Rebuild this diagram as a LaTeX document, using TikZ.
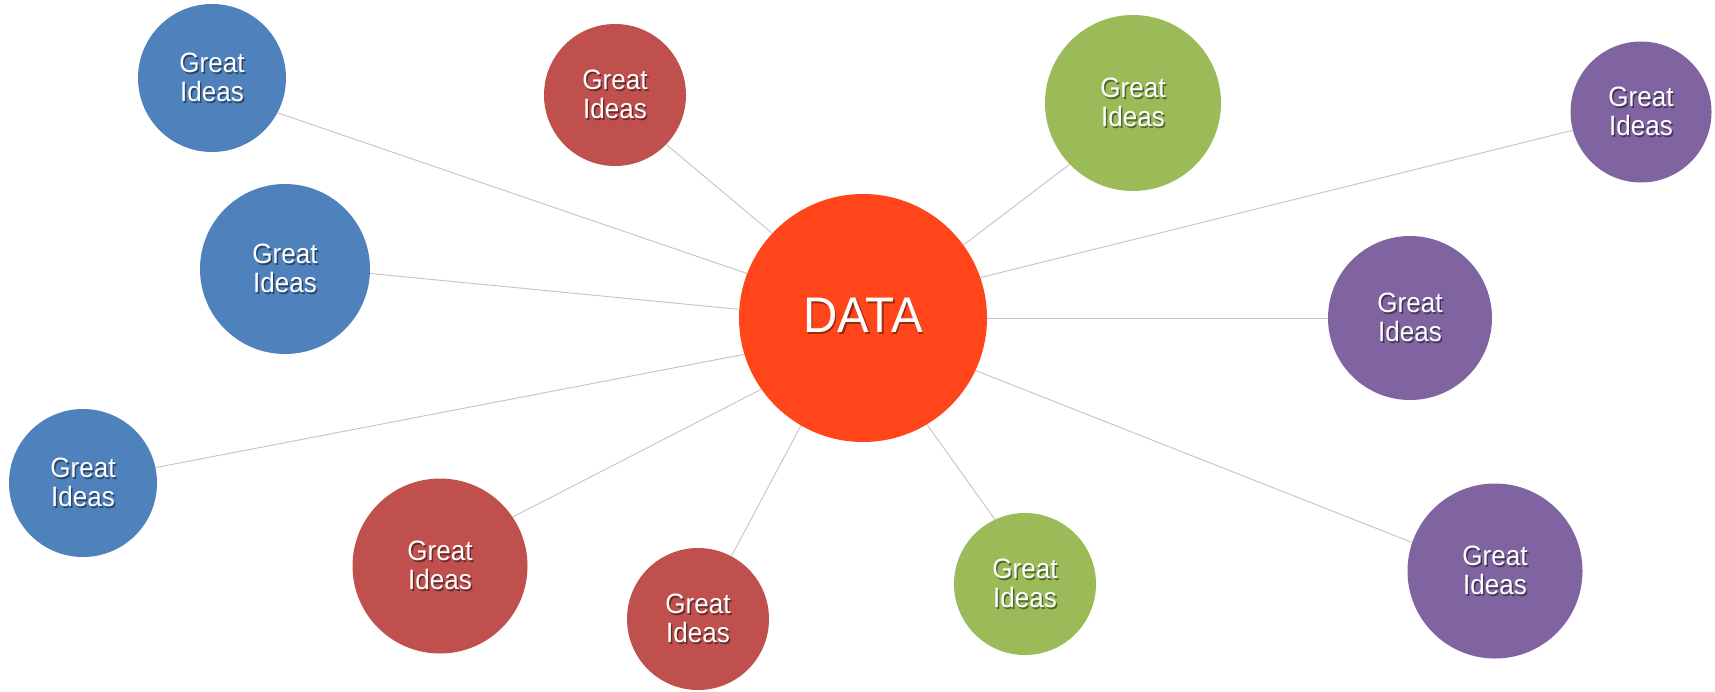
\documentclass[tikz,border=0pt]{standalone}
\usepackage{fontspec}
\setmainfont{Liberation Sans}
\newfontfamily\ideafont[FakeStretch=0.93]{Liberation Sans}
\newfontfamily\datafont[FakeStretch=0.95]{Liberation Sans}
\definecolor{ideablue}{HTML}{4F81BD}
\definecolor{ideared}{HTML}{C0504D}
\definecolor{ideagreen}{HTML}{9BBB59}
\definecolor{ideapurple}{HTML}{8064A2}
\definecolor{dataorange}{HTML}{FF4519}
\definecolor{linegray}{HTML}{C4C4C4}
\pgfdeclarelayer{bg}
\pgfsetlayers{bg,main}
\tikzset{
  bubble/.style={circle, inner sep=0pt, draw=none},
  ideatext/.style={font=\ideafont\fontsize{28}{29}\selectfont, align=center, text=white, inner sep=0pt},
  ideashadow/.style={ideatext, text=black, text opacity=0.45},
  datatext/.style={font=\datafont\fontsize{50}{52}\selectfont, text=white, inner sep=0pt},
  datashadow/.style={datatext, text=black, text opacity=0.4},
  link/.style={draw=linegray, line width=0.9pt},
}
\newcommand\ideabubble[4]{%
  \node[bubble, fill=#2, minimum size=#4pt] (#1) at (#3) {};
  \node[ideashadow] at ([shift={(1.5pt,-1.5pt)}]#1.center) {Great\\Ideas};
  \node[ideatext] at ([yshift=1pt]#1.center) {Great\\Ideas};
}
\begin{document}
\begin{tikzpicture}[x=1pt,y=-1pt]
\useasboundingbox (0,0) rectangle (1715,691);

\node[bubble, fill=dataorange, minimum size=248pt] (data) at (863,318) {};
\node[datashadow] at ([shift={(1.8pt,1.2pt)}]data.center) {DATA};
\node[datatext] at ([yshift=3pt]data.center) {DATA};

\ideabubble{b1}{ideablue}{212,78}{148}
\ideabubble{b2}{ideablue}{285,269}{170}
\ideabubble{b3}{ideablue}{83,483}{148}
\ideabubble{r1}{ideared}{615,95}{142}
\ideabubble{r2}{ideared}{440,566}{175}
\ideabubble{r3}{ideared}{698,619}{142}
\ideabubble{g1}{ideagreen}{1133,103}{176}
\ideabubble{g2}{ideagreen}{1025,584}{142}
\ideabubble{p1}{ideapurple}{1641,112}{141}
\ideabubble{p2}{ideapurple}{1410,318}{164}
\ideabubble{p3}{ideapurple}{1495,571}{175}

\begin{pgfonlayer}{bg}
\fill[white] (0,0) rectangle (1715,691);
\draw[link] (data.137) -- (r1.-44);
\draw[link] (data.159) -- (b1.-28);
\draw[link] (data.176) -- (b2.-3);
\draw[link] (data.197) -- (b3.12);
\draw[link] (data.215) -- (r2.34);
\draw[link] (data.240) -- (r3.62);
\draw[link] (data.301) -- (g2.115);
\draw[link] (data.335) -- (p3.161);
\draw[link] (data.0) -- (p2.180);
\draw[link] (data.19) -- (p1.195);
\draw[link] (data.36) -- (g1.224);
\end{pgfonlayer}
\end{tikzpicture}
\end{document}
